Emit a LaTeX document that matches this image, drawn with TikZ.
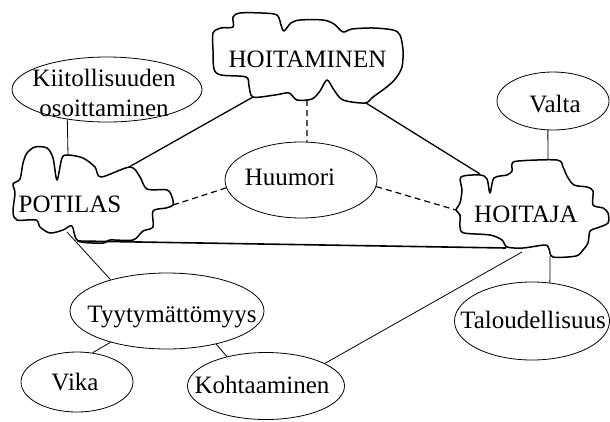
\documentclass[tikz,border=0pt]{standalone}
\usepackage{fontspec}
\setmainfont{Liberation Serif}
\usetikzlibrary{shapes.geometric}
\begin{document}
\begin{tikzpicture}[x=1pt,y=-1pt,
  every node/.style={font=\fontsize{25}{30}\selectfont},
  oval/.style={draw, ellipse, inner sep=0pt, line width=0.8pt},
  word/.style={inner sep=0pt, text height=17pt, text depth=1pt},
  blob/.style={draw, line width=1.5pt, line join=round},
  link/.style={line width=0.8pt},
  strong/.style={line width=1.3pt},
  hint/.style={line width=1.2pt, dash pattern=on 6pt off 4pt}]
\useasboundingbox (0,0) rectangle (610,421);

% ---------- cloud outlines ----------
\draw[blob] plot[smooth cycle, tension=0.5] coordinates {
  (233,17) (240,13) (262,13) (277,15) (281,25) (284,31) (291,23) (300,20)
  (323,20) (334,24) (343,32) (352,29) (373,28) (393,30) (400,35) (403,50)
  (402,67) (396,78) (388,86) (373,97) (365,103) (343,100) (334,90) (327,80)
  (320,91) (312,99) (297,100) (289,93) (275,95) (253,97) (249,86) (246,77)
  (221,75) (214,69) (213,50) (213,33) (221,28) (233,27)};
\node[word] (hoitaminen) at (307.5,59) {HOITAMINEN};

\draw[blob] plot[smooth cycle, tension=0.5] coordinates {
  (23,163) (27,153) (35,147) (47,148) (53,158) (57,180) (62,158) (68,155)
  (83,158) (95,167) (101,177) (130,167) (140,177) (147,189) (167,190)
  (172,197) (173,205) (166,208) (153,211) (153,227) (143,231) (133,240)
  (110,240) (103,243) (78,241) (72,226) (63,230) (50,233) (40,227) (36,220)
  (17,220) (13,212) (15,193) (13,184) (20,179)};
\node[word] (potilas) at (70,204) {POTILAS};

\draw[blob] plot[smooth cycle, tension=0.5] coordinates {
  (461,177) (480,175) (487,179) (490,193) (494,178) (507,175) (512,171)
  (512,164) (518,161) (557,160) (563,167) (567,176) (574,185) (587,187)
  (593,191) (593,205) (603,208) (608,213) (608,223) (597,228) (590,231)
  (588,243) (583,250) (576,256) (553,257) (549,249) (545,245) (523,248)
  (507,247) (502,240) (490,235) (464,233) (460,227) (460,215) (456,210)
  (460,203) (462,190)};
\node[word] (hoitaja) at (526,214) {HOITAJA};

% attachment points on the cloud outlines
\coordinate (hm-sw) at (253,97);
\coordinate (hm-s)  at (307,100);
\coordinate (hm-se) at (366,103);
\coordinate (pot-n)  at (68,155);
\coordinate (pot-ne) at (129,167);
\coordinate (pot-e)  at (173,205);
\coordinate (pot-sw) at (67,232);
\coordinate (pot-se) at (78,241);
\coordinate (hj-nw) at (480,174);
\coordinate (hj-w)  at (456,210);
\coordinate (hj-n)  at (548,160);
\coordinate (hj-s)  at (550,256);
\coordinate (hj-sw) at (506,248);
\coordinate (hj-sb) at (522,252);

% ---------- ellipses ----------
\node[oval, minimum width=190pt, minimum height=65pt] (kiit) at (107,89.5) {};
\node[align=center, inner sep=0pt] (kiit-t) at (104,93) {Kiitollisuuden\\osoittaminen};

\node[oval, minimum width=112pt, minimum height=58pt] (valta) at (553,101) {};
\node[word] (valta-t) at (555,104) {Valta};

\node[oval, minimum width=152pt, minimum height=76pt] (huumori) at (301,180) {};
\node[word] (huumori-t) at (290,177) {Huumori};

\node[oval, minimum width=194pt, minimum height=76pt] (tyy) at (167,311) {};
\node[word] (tyy-t) at (172,314) {Tyytymättömyys};

\node[oval, minimum width=112pt, minimum height=60pt] (vika) at (77,382) {};
\node[word] (vika-t) at (75,382) {Vika};

\node[oval, minimum width=157pt, minimum height=67pt] (koht) at (266,386) {};
\node[word] (koht-t) at (262,385) {Kohtaaminen};

\node[oval, minimum width=155pt, minimum height=78pt] (talo) at (532,321) {};
\node[word] (talo-t) at (533,320) {Taloudellisuus};

% ---------- connectors ----------
\draw[strong] (pot-ne) -- (hm-sw);
\draw[strong] (hm-se) -- (hj-nw);
\draw[line width=1.6pt] (pot-se) -- (hj-sw);
\draw[link] (kiit.217) -- (pot-n);
\draw[link] (valta.260) -- (hj-n);
\draw[link] (hj-s) -- (talo.65);
\draw[link] (pot-sw) -- (tyy.151);
\draw[link] (tyy.209) -- (vika.62);
\draw[link] (tyy.326) -- (koht.143);
\draw[link] (koht.21) -- (hj-sb);

\draw[hint] (hm-s) -- (huumori.81);
\draw[hint] (pot-e) -- (huumori.186);
\draw[hint] (huumori.355) -- (hj-w);
\end{tikzpicture}
\end{document}
